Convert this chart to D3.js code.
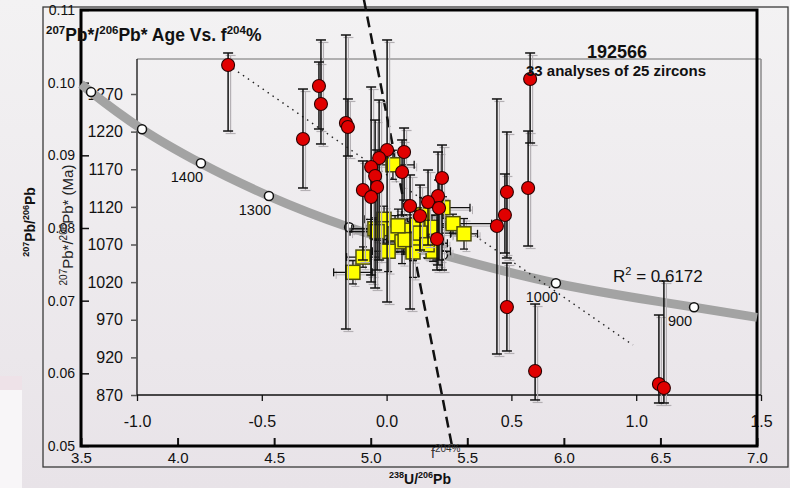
<!DOCTYPE html>
<html>
<head>
<meta charset="utf-8">
<script src="https://cdn.jsdelivr.net/npm/d3@7"></script>
<style>
  body { margin: 0; }
  svg { display: block; font-family: "Liberation Sans", Arial, sans-serif; }
</style>
</head>
<body>
<div id="chart"></div>
<script>
// Tera-Wasserburg concordia: age markers
const markerAges = [1600, 1500, 1400, 1300, 1200, 1100, 1000, 900];
const markerU    = [3.552, 3.816, 4.121, 4.473, 4.888, 5.374, 5.959, 6.674];
const markerPb   = [0.0987, 0.0936, 0.0889, 0.0844, 0.0801, 0.0763, 0.0724, 0.0691];
const labelledAges = [1400, 1300, 1000, 900];
// where the grey band meets the frame
const curveStartU = 3.5, curveStartPb = 0.0998;
const curveEndU = 7.0, curveEndPb = 0.0677;

// yellow squares: 238U/206Pb vs 207Pb/206Pb with errors
const sqU     = [5.115, 5.069, 5.022, 5.064, 5.033, 5.126, 5.162, 5.219, 5.203, 5.240, 5.271, 5.317, 5.297,
                 5.323, 5.219, 5.374, 5.426, 5.483, 5.255, 5.090, 4.960, 4.908, 5.178, 5.141, 5.292];
const sqPb    = [0.0887, 0.0812, 0.0799, 0.0799, 0.0795, 0.0792, 0.0781, 0.0777, 0.0797, 0.0804, 0.0818, 0.0801, 0.0779,
                 0.0768, 0.0767, 0.0828, 0.0806, 0.0792, 0.0793, 0.0768, 0.0760, 0.0739, 0.0784, 0.0803, 0.0777];
const sqUErr  = [0.11, 0.10, 0.12, 0.09, 0.14, 0.10, 0.08, 0.12, 0.09, 0.15, 0.11, 0.13, 0.10,
                 0.09, 0.12, 0.14, 0.20, 0.07, 0.16, 0.08, 0.085, 0.10, 0.11, 0.13, 0.09];
const sqPbErr = [0.0020, 0.0018, 0.0015, 0.0020, 0.0012, 0.0025, 0.0030, 0.0022, 0.0017, 0.0019, 0.0024, 0.0016, 0.0021,
                 0.0014, 0.0035, 0.0015, 0.0013, 0.0021, 0.0018, 0.0028, 0.0014, 0.0016, 0.0020, 0.0023, 0.0018];

// red circles: 207Pb*/206Pb* age (Ma) vs f204 %
const fVals  = [-0.635, -0.271, -0.263, -0.335, -0.163, -0.155, 0.002, 0.070, -0.030, -0.062, 0.062, -0.046, -0.038,
                -0.095, -0.062, 0.222, 0.206, 0.166, 0.210, 0.094, 0.134, 0.202, 0.482, 0.474, 0.442, 0.567,
                0.575, 0.482, 0.595, 1.091, 1.111];
const ages   = [1308.5, 1280.6, 1256.7, 1210.2, 1231.5, 1226.1, 1195.6, 1192.9, 1185.0, 1173.0, 1166.3, 1161.0, 1146.4,
                1142.4, 1133.1, 1158.4, 1134.5, 1126.5, 1118.5, 1121.2, 1107.9, 1077.3, 1139.8, 1109.2, 1094.6, 1145.1,
                1289.9, 986.9, 901.9, 884.6, 879.3];
const ageHi  = [1324.5, 1312.5, 1341.8, 1276.6, 1348.4, 1263.4, 1341.8, 1224.8, 1262.0, 1279.3, 1208.9, 1235.4, 1195.6,
                1181.0, 1175.6, 1202.2, 1192.9, 1169.0, 1155.7, 1162.4, 1149.0, 1122.5, 1219.5, 1163.7, 1263.4, 1220.8,
                1324.5, 1045.4, 990.9, 976.3, 1021.5];
const ageLo  = [1220.8, 1223.5, 1203.6, 1145.1, 957.7, 1187.6, 993.6, 1129.1, 1049.4, 1020.2, 1109.2, 1012.2, 1036.1,
                1049.4, 1029.5, 1036.1, 1042.8, 1069.3, 1049.4, 984.3, 1062.7, 1036.1, 1052.1, 1058.7, 924.5, 1068.0,
                1204.9, 928.5, 863.4, 859.4, 859.4];

// regression (dotted) and f204 reference line (dashed)
const regF = [-0.635, 0.987];
const regAge = [1308.5, 936.4];
const refU = [4.965, 5.421];
const refPb = [0.1114, 0.0500];
const rSquared = "0.6172";

const uTicks = [3.5, 4.0, 4.5, 5.0, 5.5, 6.0, 6.5, 7.0];
const pbTicks = [0.05, 0.06, 0.07, 0.08, 0.09, 0.10, 0.11];
const fTicks = [-1.0, -0.5, 0.0, 0.5, 1.0, 1.5];
const ageTicks = [870, 920, 970, 1020, 1070, 1120, 1170, 1220, 1270];

const width = 790, height = 488;
const svg = d3.select("#chart").append("svg")
  .attr("width", width)
  .attr("height", height);

// background
const defs = svg.append("defs");
const grad = defs.append("linearGradient").attr("id", "bg").attr("x1", 0).attr("y1", 0).attr("x2", 0).attr("y2", 1);
grad.append("stop").attr("offset", "0%").attr("stop-color", "#f3f2f3");
grad.append("stop").attr("offset", "100%").attr("stop-color", "#e8e3e8");
svg.append("rect").attr("width", width).attr("height", height).attr("fill", "url(#bg)");
svg.append("rect").attr("x", 0).attr("y", 376).attr("width", 22).attr("height", 14).attr("fill", "#eee2e8");
svg.append("rect").attr("x", 0).attr("y", 390).attr("width", 22).attr("height", 98).attr("fill", "#f8f6f8");

// scales: concordia frame
const xU = d3.scaleLinear().domain([3.5, 7.0]).range([81, 757]);
const yPb = d3.scaleLinear().domain([0.05, 0.11]).range([446, 10]);
// scales: age vs f204 frame
const xF = d3.scaleLinear().domain([-1.0, 1.5]).range([137, 761]);
const yAge = d3.scaleLinear().domain([870, 1270]).range([395, 94]);
const ageTop = 1316.5;

// plain hyphen for negatives, like the original
const fmt1 = d => d3.format(".1f")(d).replace("\u2212", "-");

// outer thin frame
svg.append("rect").attr("x", 43).attr("y", 7).attr("width", 745).attr("height", 460)
  .attr("fill", "none").attr("stroke", "#3a3a3a").attr("stroke-width", 1.3);

const styleAxis = (g, size) => {
  g.select(".domain").remove();
  g.selectAll("text").attr("font-size", size).attr("fill", "#111");
  g.selectAll("line").attr("stroke", "#111");
};

svg.append("g")
  .attr("transform", `translate(${xU.range()[0]},0)`)
  .call(d3.axisLeft(yPb).tickValues(pbTicks).tickFormat(d3.format(".2f")).tickSizeInner(-8).tickSizeOuter(0).tickPadding(6))
  .call(g => styleAxis(g, 14))
  .call(g => g.selectAll("line").attr("stroke-width", 1.5));

svg.append("g")
  .attr("transform", `translate(0,${yPb.range()[0]})`)
  .call(d3.axisBottom(xU).tickValues(uTicks).tickFormat(fmt1).tickSizeInner(-8).tickSizeOuter(0).tickPadding(6))
  .call(g => styleAxis(g, 15))
  .call(g => g.selectAll("line").attr("stroke-width", 2));

// inner frame for age plot
svg.append("line").attr("x1", xF(-1)).attr("x2", xF(1.5)).attr("y1", yAge(ageTop)).attr("y2", yAge(ageTop))
  .attr("stroke", "#9a9a9a").attr("stroke-width", 1.5);
svg.append("line").attr("x1", xF(1.5)).attr("x2", xF(1.5)).attr("y1", yAge(ageTop)).attr("y2", yAge(870))
  .attr("stroke", "#8a8a8a").attr("stroke-width", 1.5);
svg.append("line").attr("x1", xF(-1)).attr("x2", xF(-1)).attr("y1", yAge(ageTop)).attr("y2", yAge(870))
  .attr("stroke", "#111").attr("stroke-width", 1.3);
svg.append("line").attr("x1", xF(-1)).attr("x2", xF(1.5)).attr("y1", yAge(870)).attr("y2", yAge(870))
  .attr("stroke", "#111").attr("stroke-width", 1.5);

svg.append("g")
  .attr("transform", `translate(${xF(-1)},0)`)
  .call(d3.axisLeft(yAge).tickValues(ageTicks).tickFormat(d3.format("d")).tickSizeInner(6).tickSizeOuter(0).tickPadding(8))
  .call(g => styleAxis(g, 16))
  .call(g => g.selectAll("line").attr("stroke", "#555").attr("stroke-width", 1.5));

svg.append("g")
  .attr("transform", `translate(0,${yAge(870)})`)
  .call(d3.axisBottom(xF).tickValues(fTicks).tickFormat(fmt1).tickSizeInner(6).tickSizeOuter(0).tickPadding(15))
  .call(g => styleAxis(g, 16))
  .call(g => g.selectAll("line").attr("stroke-width", 1.3));

// thick concordia frame
svg.append("rect").attr("x", 81).attr("y", 10).attr("width", 676).attr("height", 436)
  .attr("fill", "none").attr("stroke", "#000").attr("stroke-width", 3);

// concordia band
const curvePts = [[curveStartU, curveStartPb]]
  .concat(markerU.map((u, i) => [u, markerPb[i]]))
  .concat([[curveEndU, curveEndPb]]);
svg.append("path")
  .attr("d", d3.line().x(d => xU(d[0])).y(d => yPb(d[1])).curve(d3.curveMonotoneX)(curvePts))
  .attr("fill", "none").attr("stroke", "#a3a3a3").attr("stroke-width", 9);

svg.selectAll(".marker")
  .data(markerAges)
  .join("circle")
    .attr("class", "marker")
    .attr("cx", (d, i) => xU(markerU[i]))
    .attr("cy", (d, i) => yPb(markerPb[i]))
    .attr("r", 4.5)
    .attr("fill", "#fff")
    .attr("stroke", "#111")
    .attr("stroke-width", 1.5);

svg.selectAll(".age-label")
  .data(labelledAges)
  .join("text")
    .attr("class", "age-label")
    .attr("x", d => xU(markerU[markerAges.indexOf(d)]) - 14)
    .attr("y", d => yPb(markerPb[markerAges.indexOf(d)]) + 19)
    .attr("text-anchor", "middle")
    .attr("font-size", 14.5)
    .attr("fill", "#111")
    .text(d => d);

// dotted regression line
svg.append("line")
  .attr("x1", xF(regF[0])).attr("y1", yAge(regAge[0]))
  .attr("x2", xF(regF[1])).attr("y2", yAge(regAge[1]))
  .attr("stroke", "#222").attr("stroke-width", 1.4).attr("stroke-dasharray", "1.5,4.5");

// dashed f204 line
svg.append("line")
  .attr("x1", xU(refU[0])).attr("y1", yPb(refPb[0]))
  .attr("x2", xU(refU[1])).attr("y2", yPb(refPb[1]))
  .attr("stroke", "#111").attr("stroke-width", 2.5).attr("stroke-dasharray", "11,6");

// error bar helper
const bar = (g, x1, y1, x2, y2, color, w) => g.append("line")
  .attr("x1", x1).attr("y1", y1).attr("x2", x2).attr("y2", y2)
  .attr("stroke", color).attr("stroke-width", w);

// light shadow first, then the black bar
const shadows = [["#b4b0b4", 2.5, 1], ["#111", 0, 1.3]];

// yellow squares with x and y errors
const sqIdx = d3.range(sqU.length);
const sqBars = svg.append("g");
shadows.forEach(([color, off, w]) => {
  const g = sqBars.append("g").attr("transform", `translate(${off},${off})`);
  sqIdx.forEach(i => {
    const cx = xU(sqU[i]), cy = yPb(sqPb[i]);
    const xa = xU(sqU[i] - sqUErr[i]), xb = xU(sqU[i] + sqUErr[i]);
    const ya = yPb(sqPb[i] + sqPbErr[i]), yb = yPb(sqPb[i] - sqPbErr[i]);
    bar(g, xa, cy, xb, cy, color, w);
    bar(g, xa, cy - 4, xa, cy + 4, color, w);
    bar(g, xb, cy - 4, xb, cy + 4, color, w);
    bar(g, cx, ya, cx, yb, color, w);
    bar(g, cx - 4, ya, cx + 4, ya, color, w);
    bar(g, cx - 4, yb, cx + 4, yb, color, w);
  });
});
svg.selectAll(".sq")
  .data(sqIdx)
  .join("rect")
    .attr("class", "sq")
    .attr("x", i => xU(sqU[i]) - 7)
    .attr("y", i => yPb(sqPb[i]) - 7)
    .attr("width", 14)
    .attr("height", 14)
    .attr("fill", "#ffff00")
    .attr("stroke", "#4d4d10")
    .attr("stroke-width", 1.5);

// red circles with age errors
const ptIdx = d3.range(fVals.length);
const ptBars = svg.append("g");
shadows.forEach(([color, off, w]) => {
  const g = ptBars.append("g").attr("transform", `translate(${off},${off})`);
  ptIdx.forEach(i => {
    const cx = xF(fVals[i]);
    const ya = yAge(ageHi[i]), yb = yAge(ageLo[i]);
    bar(g, cx, ya, cx, yb, color, w + 0.2);
    bar(g, cx - 5, ya, cx + 5, ya, color, w + 0.2);
    bar(g, cx - 5, yb, cx + 5, yb, color, w + 0.2);
  });
});
svg.selectAll(".pt")
  .data(ptIdx)
  .join("circle")
    .attr("class", "pt")
    .attr("cx", i => xF(fVals[i]))
    .attr("cy", i => yAge(ages[i]))
    .attr("r", 6.5)
    .attr("fill", "#e00000")
    .attr("stroke", "#2a0000")
    .attr("stroke-width", 1.1);

// rich text with superscripts
const rich = (sel, parts, size, supSize) => {
  parts.forEach(([t, sup], i) => {
    const prevSup = i > 0 && parts[i - 1][1];
    let dy = 0;
    if (sup && !prevSup) dy = -size * 0.4;
    if (!sup && prevSup) dy = size * 0.4;
    sel.append("tspan").attr("font-size", sup ? supSize : size).attr("dy", dy).text(t);
  });
  return sel;
};

rich(svg.append("text").attr("x", 46).attr("y", 41).attr("font-weight", "bold").attr("fill", "#111"),
  [["207", true], ["Pb*/", false], ["206", true], ["Pb* Age Vs. f", false], ["204", true], ["%", false]], 17.5, 11.5);

svg.append("text").attr("x", 617).attr("y", 58).attr("text-anchor", "middle")
  .attr("font-weight", "bold").attr("font-size", 18).attr("fill", "#111").text("192566");
svg.append("text").attr("x", 616).attr("y", 76).attr("text-anchor", "middle")
  .attr("font-weight", "bold").attr("font-size", 15).attr("fill", "#111").text("33 analyses of 25 zircons");

rich(svg.append("text").attr("x", 613).attr("y", 282).attr("fill", "#111"),
  [["R", false], ["2", true], [" = " + rSquared, false]], 17, 11);

rich(svg.append("text").attr("x", 431).attr("y", 458).attr("fill", "#333"),
  [["f", false], ["204%", true]], 14, 10);

// axis titles
rich(svg.append("text").attr("transform", "translate(35,222) rotate(-90)").attr("text-anchor", "middle")
  .attr("font-weight", "bold").attr("fill", "#111"),
  [["207", true], ["Pb/", false], ["206", true], ["Pb", false]], 14, 9);

rich(svg.append("text").attr("transform", "translate(73,225) rotate(-90)").attr("text-anchor", "middle")
  .attr("fill", "#222"),
  [["207", true], ["Pb*/", false], ["206", true], ["Pb* (Ma)", false]], 15, 10);

rich(svg.append("text").attr("x", 420).attr("y", 484).attr("text-anchor", "middle")
  .attr("font-weight", "bold").attr("fill", "#111"),
  [["238", true], ["U/", false], ["206", true], ["Pb", false]], 14, 9);
</script>
</body>
</html>
